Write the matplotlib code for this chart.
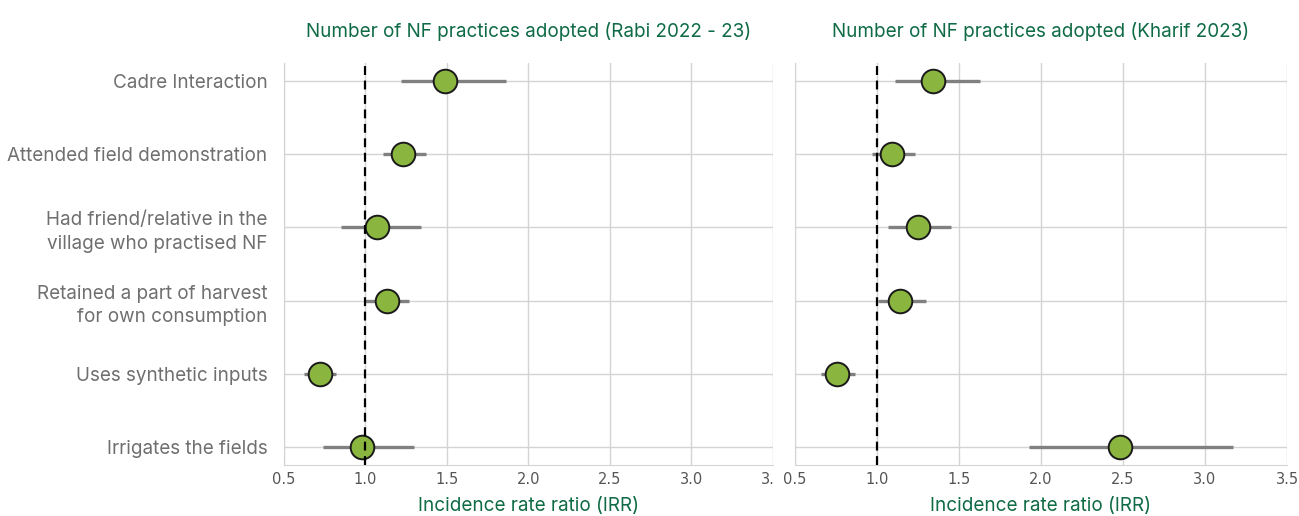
import matplotlib.pyplot as plt
from matplotlib.patches import Rectangle

labels = ['Cadre Interaction', 'Attended field demonstration',
          'Had friend/relative in the\nvillage who practised NF',
          'Retained a part of harvest\nfor own consumption',
          'Uses synthetic inputs', 'Irrigates the fields']

rabi_irr = [1.49, 1.23, 1.07, 1.13, 0.72, 0.98]
rabi_lo = [1.22, 1.11, 0.85, 1.00, 0.62, 0.74]
rabi_hi = [1.86, 1.37, 1.34, 1.27, 0.82, 1.30]

kharif_irr = [1.34, 1.09, 1.25, 1.14, 0.76, 2.48]
kharif_lo = [1.11, 0.97, 1.07, 1.01, 0.66, 1.93]
kharif_hi = [1.63, 1.23, 1.45, 1.30, 0.87, 3.17]

titles = ['Number of NF practices adopted (Rabi 2022 - 23)',
          'Number of NF practices adopted (Kharif 2023)']
xticks = [0.5, 1.0, 1.5, 2.0, 2.5, 3.0, 3.5]

green = '#0f6b45'
fig = plt.figure(figsize=(12.99, 5.16), dpi=100)
ax1 = fig.add_axes([0.2186, 0.0988, 0.3764, 0.7792])
ax2 = fig.add_axes([0.6118, 0.0988, 0.379, 0.7792])
ax2.set_zorder(2)

panels = [(ax1, rabi_irr, rabi_lo, rabi_hi), (ax2, kharif_irr, kharif_lo, kharif_hi)]
for i, (ax, irr, lo, hi) in enumerate(panels):
    y = list(range(len(labels)))
    ax.hlines(y, lo, hi, color='#808080', lw=2.4, zorder=3)
    ax.plot(irr, y, 'o', ms=17, mfc='#8ab63f', mec='#1a1a1a', mew=1.4, zorder=4)
    ax.axvline(1.0, color='black', ls=(0, (4, 2.5)), lw=1.6, zorder=5)
    ax.set_xlim(0.5, 3.5)
    ax.set_ylim(5.25, -0.25)
    ax.set_xticks(xticks)
    ax.set_yticks(y)
    ax.grid(True, color='#d4d4d4', lw=1.0, zorder=0)
    ax.set_axisbelow(True)
    for s in ['top', 'right']:
        ax.spines[s].set_visible(False)
    for s in ['left', 'bottom']:
        ax.spines[s].set_color('#d4d4d4')
    ax.tick_params(length=0, colors='#555555', labelsize=10.5)
    ax.tick_params(axis='x', pad=5)
    if i == 0:
        ax.set_yticklabels(labels, family='Inter', fontsize=13.6, color='#6f6f6f',
                           linespacing=1.4)
        ax.tick_params(axis='y', pad=12)
    else:
        ax.set_yticklabels([])
    ax.set_title(titles[i], family='Inter', fontsize=13.6, color=green, pad=19)
    ax.set_xlabel('Incidence rate ratio (IRR)', family='Inter', fontsize=13.6,
                  color=green, labelpad=7)

# the 3.5 label of the left panel is cut off at the panel edge
fig.patches.append(Rectangle((773 / 1299, 0.04), 0.02, 0.05, transform=fig.transFigure,
                             color='white', zorder=1))

fig.savefig('out.png', dpi=100)
